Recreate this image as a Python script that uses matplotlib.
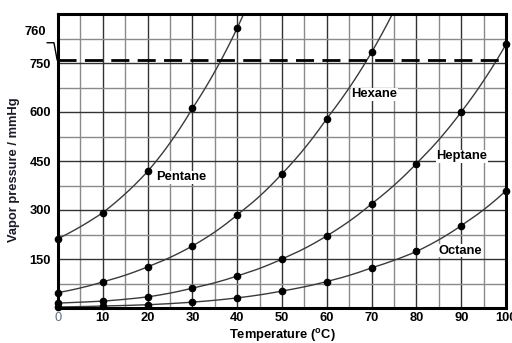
import numpy as np
import matplotlib
matplotlib.use("Agg")
import matplotlib.pyplot as plt

plt.rcParams['font.family'] = ['Liberation Sans', 'DejaVu Sans']
plt.rcParams['mathtext.fontset'] = 'custom'
plt.rcParams['mathtext.rm'] = 'Liberation Sans:bold'
plt.rcParams['mathtext.default'] = 'rm'

temps = [0, 10, 20, 30, 40, 50, 60, 70, 80, 90, 100]
pentane_t = [0, 10, 20, 30, 40]
pentane = [212, 292, 418, 611, 857]
hexane_t = [0, 10, 20, 30, 40, 50, 60, 70]
hexane = [47, 80, 126, 190, 285, 411, 580, 783]
heptane = [15, 21, 34, 61, 98, 150, 221, 319, 442, 600, 807]
octane = [3, 6, 10, 18, 31, 52, 81, 123, 173, 252, 359]

xticks = [0, 10, 20, 30, 40, 50, 60, 70, 80, 90, 100]
yticks = [150, 300, 450, 600, 750]
atm = 760

fig = plt.figure(figsize=(5.12, 3.43), dpi=100)
ax = fig.add_axes([58/512, 35/343, 448/512, 294/343])
ax.set_xlim(0, 100)
ax.set_ylim(0, 900)

# grid
for x in np.arange(5, 100, 5):
    ax.axvline(x, color='#333333' if x % 10 == 0 else '#8a8a8a', lw=1.0, zorder=1)
for y in np.arange(75, 900, 75):
    ax.axhline(y, color='#333333' if y % 150 == 0 else '#8a8a8a', lw=1.0, zorder=1)

def smooth(t, v, ext):
    t = np.asarray(t, float); lv = np.log(np.asarray(v, float))
    tt = np.linspace(t[0], t[-1] + ext, 300)
    res = np.interp(tt, t, lv)
    if ext > 0:
        rate = (lv[-1] - lv[-2]) / (t[-1] - t[-2])
        m = tt > t[-1]
        res[m] = lv[-1] + rate * (tt[m] - t[-1])
    return tt, np.exp(res)

for t, v, ext in [(pentane_t, pentane, 6), (hexane_t, hexane, 8), (temps, heptane, 0), (temps, octane, 0)]:
    tt, vv = smooth(t, v, ext)
    ax.plot(tt, vv, color='#3a3a3a', lw=1.0, zorder=3)
    ax.plot(t, v, 'o', color='black', ms=4.5, zorder=4, clip_on=False)

ax.axhline(atm, color='black', lw=2.0, dashes=(6.5, 3), zorder=3)

lab = dict(fontsize=9.3, fontweight='bold', zorder=5,
           bbox=dict(facecolor='white', edgecolor='none', pad=0.5))
ax.text(22, 400, 'Pentane', ha='left', va='center', **lab)
ax.text(65.5, 654, 'Hexane', ha='left', va='center', **lab)
ax.text(84.5, 464, 'Heptane', ha='left', va='center', **lab)
ax.text(85, 175, 'Octane', ha='left', va='center', **lab)

for s in ax.spines.values():
    s.set_linewidth(2.2)
    s.set_zorder(6)

ax.set_xticks(xticks)
ax.set_xticklabels([str(x) for x in xticks], fontsize=9.3, fontweight='bold')
ax.get_xticklabels()[0].set_color('#5f6f80')
ax.get_xticklabels()[0].set_fontweight('normal')
ax.set_yticks(yticks)
ax.set_yticklabels([str(y) for y in yticks], fontsize=9.3, fontweight='bold')
ax.tick_params(length=0, pad=5)
ax.tick_params(axis='x', pad=3)

# 760 label with leader
ax.text(-2.6, 845, '760', ha='right', va='center', fontsize=9.3, fontweight='bold', clip_on=False)
ax.plot([-2.4, -0.9, -0.2], [812, 812, atm], color='black', lw=1.0, clip_on=False)

ax.set_xlabel(r'Temperature ($^{\mathrm{o}}$C)', fontsize=9.3, fontweight='bold', labelpad=2)
ax.set_ylabel('Vapor pressure / mmHg', fontsize=9.3, fontweight='bold', color='#1a1a2a')
ax.yaxis.set_label_coords(-0.085, 0.47)

fig.savefig('out.png', dpi=100)
